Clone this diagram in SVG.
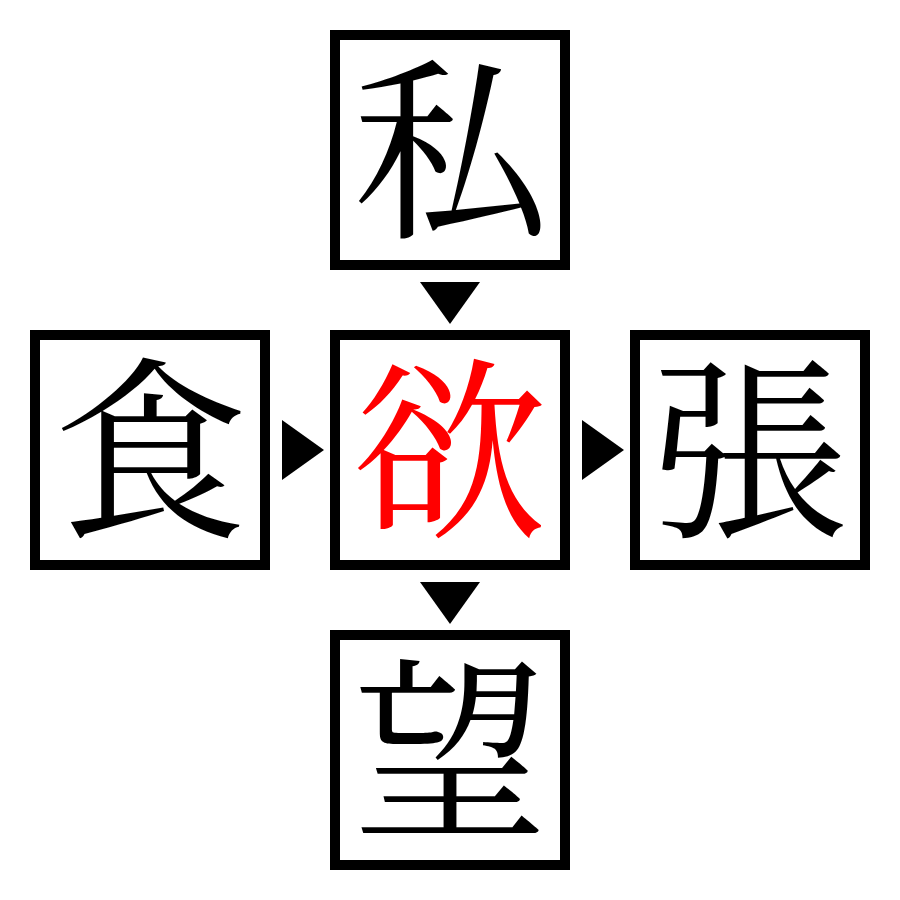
<svg xmlns="http://www.w3.org/2000/svg" width="900" height="900" viewBox="0 0 900 900">
<style>
.box{fill:#fff;stroke:#000;stroke-width:10}
.ch{font-family:"Noto Serif CJK JP","Noto Sans CJK JP",serif;font-size:195px;text-anchor:middle;fill:#000}
.red{fill:#ff0000}
.arr{fill:#000}
</style>
<rect width="900" height="900" fill="#fff"/>
<g id="node-watashi"><rect class="box" x="335" y="35" width="230" height="230"/><text class="ch" x="450" y="223">私</text></g>
<g id="node-shoku"><rect class="box" x="35" y="335" width="230" height="230"/><text class="ch" x="150" y="523">食</text></g>
<g id="node-yoku"><rect class="box" x="335" y="335" width="230" height="230"/><text class="ch red" x="450" y="523">欲</text></g>
<g id="node-chou"><rect class="box" x="635" y="335" width="230" height="230"/><text class="ch" x="750" y="523">張</text></g>
<g id="node-bou"><rect class="box" x="335" y="635" width="230" height="230"/><text class="ch" x="450" y="823">望</text></g>
<g id="connectors">
<polygon class="arr" points="420,282 480,282 450,324"/>
<polygon class="arr" points="282,420 282,480 324,450"/>
<polygon class="arr" points="582,420 582,480 624,450"/>
<polygon class="arr" points="420,582 480,582 450,624"/>
</g>
</svg>
